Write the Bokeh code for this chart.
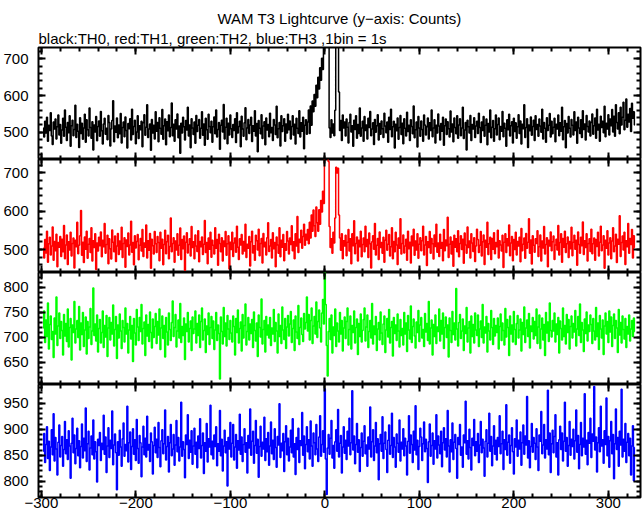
import numpy as np
from bokeh.plotting import figure
from bokeh.layouts import column
from bokeh.models import Range1d, LinearAxis, SingleIntervalTicker, Title
from bokeh.embed import file_html
from bokeh.resources import INLINE

# ---- data: counts per 1 s bin, first bin at t = -298 s ----
t_start = -298
bin_step = 1

th0 = [
    512, 487, 530, 498, 541, 476, 519, 505, 553, 490, 467, 528, 509, 536, 482, 515, 547, 493, 521, 470,
    506, 538, 489, 561, 514, 478, 527, 499, 545, 462, 518, 533, 491, 508, 574, 486, 522, 503, 459, 540,
    497, 525, 481, 512, 549, 473, 534, 507, 490, 566, 513, 484, 529, 452, 520, 501, 543, 477, 516, 531,
    489, 557, 504, 468, 523, 538, 495, 511, 480, 546, 527, 463, 509, 532, 586, 474, 517, 500, 539, 485,
    520, 496, 551, 471, 513, 528, 488, 542, 505, 457, 524, 510, 537, 479, 563, 494, 516, 533, 469, 501,
    545, 483, 518, 507, 530, 461, 526, 548, 492, 514, 575, 486, 509, 523, 451, 535, 498, 519, 482, 556,
    503, 527, 474, 540, 511, 495, 562, 481, 518, 536, 466, 529, 504, 547, 488, 513, 580, 491, 522, 476,
    534, 509, 550, 485, 517, 443, 525, 498, 541, 515, 479, 532, 506, 568, 490, 520, 458, 537, 512, 494,
    528, 470, 546, 502, 519, 535, 484, 511, 556, 492, 523, 465, 538, 507, 481, 549, 516, 499, 530, 473,
    515, 542, 496, 561, 487, 508, 527, 454, 519, 533, 501, 576, 482, 514, 538, 469, 525, 493, 547, 510,
    486, 521, 505, 537, 472, 553, 498, 516, 530, 461, 544, 509, 489, 526, 567, 480, 512, 535, 497, 520,
    541, 475, 518, 503, 559, 490, 524, 447, 532, 511, 496, 548, 483, 517, 529, 466, 539, 506, 521, 488,
    552, 499, 513, 478, 535, 520, 494, 571, 485, 510, 527, 463, 545, 502, 518, 537, 476, 523, 498, 549,
    507, 531, 482, 516, 545, 493, 522, 468, 538, 511, 497, 559, 487, 526, 503, 541, 455, 519, 534, 495,
    528, 561, 497, 572, 519, 585, 556, 603, 571, 628, 594, 650, 618, 676, 642, 702, 671, 735, 748, 770,
    752, 790, 735, 512, 486, 534, 498, 523, 491, 560, 765, 740, 772, 610, 505, 532, 478, 547, 512, 528,
    490, 536, 514, 471, 527, 549, 501, 518, 462, 533, 508, 545, 484, 521, 497, 566, 489, 512, 530, 476,
    543, 505, 520, 482, 538, 513, 557, 491, 509, 526, 467, 535, 500, 518, 548, 479, 524, 495, 531, 510,
    486, 552, 517, 499, 528, 473, 541, 508, 563, 488, 515, 530, 457, 522, 504, 539, 481, 513, 546, 494,
    525, 469, 537, 511, 490, 555, 502, 519, 478, 534, 516, 496, 572, 485, 507, 528, 460, 543, 512, 489,
    531, 508, 476, 547, 520, 493, 515, 539, 482, 526, 505, 561, 488, 512, 534, 471, 519, 498, 550, 517,
    479, 524, 503, 541, 465, 518, 536, 494, 529, 510, 487, 558, 501, 523, 474, 539, 513, 496, 545, 484,
    520, 537, 491, 512, 568, 483, 506, 527, 452, 533, 515, 498, 546, 478, 521, 509, 540, 486, 517, 530,
    497, 552, 513, 472, 528, 505, 543, 489, 519, 536, 466, 524, 501, 561, 485, 514, 532, 476, 510, 547,
    493, 521, 539, 480, 516, 503, 557, 488, 525, 511, 462, 534, 507, 549, 490, 518, 529, 471, 538, 502,
    526, 484, 515, 548, 497, 531, 468, 522, 510, 575, 486, 513, 537, 459, 520, 504, 542, 492, 516, 533,
    478, 545, 508, 521, 489, 536, 517, 500, 563, 482, 527, 511, 473, 540, 505, 519, 551, 487, 530, 496,
    514, 538, 474, 522, 509, 547, 491, 526, 503, 568, 480, 515, 532, 458, 524, 498, 543, 511, 487, 535,
    519, 493, 556, 505, 528, 470, 541, 512, 497, 534, 486, 559, 508, 523, 479, 546, 516, 501, 531, 490,
    527, 550, 495, 518, 539, 484, 563, 506, 522, 476, 544, 513, 530, 499, 571, 488, 525, 509, 548, 493,
    536, 518, 562, 501, 544, 489, 575, 527, 509, 553, 496, 568, 520, 541, 582, 507, 533, 591, 514, 549,
    528, 565, 502, 579, 538, 556, 520,
]

th1 = [
    503, 478, 526, 491, 548, 467, 515, 532, 486, 509, 559, 472, 521, 497, 540, 455, 518, 506, 534, 482,
    527, 494, 563, 476, 512, 538, 461, 520, 499, 545, 483, 516, 530, 452, 524, 507, 571, 489, 511, 536,
    602, 485, 519, 466, 533, 501, 548, 477, 514, 529, 492, 557, 470, 523, 505, 541, 448, 517, 496, 532,
    510, 546, 481, 524, 507, 568, 490, 513, 537, 463, 528, 502, 475, 551, 519, 494, 535, 469, 509, 542,
    487, 522, 500, 558, 479, 516, 531, 454, 525, 508, 543, 486, 512, 574, 493, 518, 460, 536, 504, 521,
    539, 473, 511, 529, 496, 552, 482, 517, 506, 564, 478, 523, 498, 542, 451, 527, 510, 488, 547, 515,
    492, 534, 518, 471, 545, 503, 527, 460, 513, 550, 489, 520, 537, 476, 508, 582, 494, 516, 531, 467,
    522, 499, 541, 485, 511, 556, 474, 526, 502, 535, 446, 519, 544, 491, 513, 528, 483, 560, 505, 520,
    476, 538, 509, 495, 549, 468, 521, 507, 533, 487, 514, 576, 492, 518, 463, 530, 501, 545, 480, 524,
    511, 488, 557, 503, 526, 459, 540, 516, 494, 531, 470, 522, 508, 547, 485, 515, 536, 449, 519, 500,
    545, 482, 517, 530, 493, 561, 506, 474, 528, 512, 539, 488, 521, 496, 566, 479, 514, 503, 534, 457,
    520, 548, 491, 510, 472, 537, 523, 499, 553, 484, 516, 529, 465, 542, 507, 519, 486, 531, 570, 495,
    509, 526, 478, 544, 502, 518, 455, 533, 512, 490, 557, 481, 524, 506, 539, 471, 515, 498, 547, 522,
    488, 530, 513, 562, 497, 520, 476, 541, 509, 586, 492, 527, 518, 550, 503, 534, 566, 511, 540, 525,
    552, 515, 571, 530, 590, 548, 603, 562, 534, 611, 570, 548, 604, 566, 628, 598, 652, 620, 740, 765,
    758, 772, 730, 560, 505, 528, 490, 545, 517, 582, 715, 700, 712, 590, 530, 498, 541, 476, 523, 509,
    537, 484, 519, 552, 496, 528, 463, 541, 510, 575, 489, 516, 533, 470, 524, 507, 548, 481, 513, 530,
    494, 561, 508, 526, 479, 543, 515, 452, 520, 536, 501, 568, 486, 511, 529, 474, 546, 505, 518, 490,
    532, 467, 524, 550, 498, 514, 539, 483, 507, 557, 476, 521, 494, 545, 512, 461, 530, 503, 580, 488,
    516, 538, 491, 509, 527, 472, 548, 502, 519, 465, 535, 510, 553, 485, 522, 499, 541, 477, 514, 531,
    497, 523, 561, 486, 512, 534, 458, 520, 505, 547, 490, 529, 515, 475, 538, 508, 566, 493, 517, 482,
    540, 503, 518, 471, 552, 497, 525, 510, 584, 479, 514, 533, 488, 521, 456, 537, 506, 528, 494, 549,
    481, 516, 536, 500, 527, 464, 543, 512, 490, 559, 505, 522, 478, 541, 517, 495, 531, 469, 509, 553,
    526, 492, 511, 547, 483, 520, 538, 461, 524, 506, 571, 487, 515, 532, 474, 529, 501, 544, 489, 518,
    507, 550, 478, 523, 512, 496, 537, 453, 519, 541, 492, 528, 510, 564, 484, 517, 534, 471, 526, 500,
    545, 486, 521, 509, 532, 468, 555, 497, 514, 530, 477, 542, 503, 519, 580, 490, 525, 462, 536, 511,
    493, 528, 516, 549, 482, 507, 538, 470, 522, 504, 560, 488, 513, 531, 455, 524, 509, 546, 497, 520,
    535, 474, 512, 527, 499, 563, 486, 518, 541, 467, 529, 506, 548, 492, 515, 533, 479, 521, 502, 558,
    484, 519, 537, 501, 524, 459, 546, 513, 490, 532, 510, 572, 487, 523, 505, 541, 470, 516, 528, 495,
    553, 489, 515, 530, 472, 526, 508, 545, 483, 519, 561, 497, 512, 536, 451, 524, 503, 549, 486, 517,
    531, 476, 522, 557, 494, 509, 540, 466, 527, 514, 588, 482, 518, 535, 499, 545, 461, 523, 507, 568,
    490, 529, 513, 552, 478, 536, 505,
]

th2 = [
    718, 752, 689, 734, 701, 768, 676, 725, 742, 695, 711, 659, 738, 706, 780, 683, 722, 748, 697, 731,
    713, 664, 745, 702, 727, 691, 756, 680, 719, 737, 654, 724, 709, 771, 688, 716, 733, 699, 761, 674,
    728, 705, 749, 681, 714, 740, 666, 731, 697, 720, 757, 685, 712, 798, 703, 726, 692, 744, 670, 717,
    735, 688, 709, 752, 679, 723, 700, 743, 661, 718, 739, 694, 729, 706, 764, 682, 715, 741, 657, 724,
    698, 746, 712, 677, 733, 719, 690, 758, 706, 727, 668, 714, 741, 696, 723, 651, 737, 708, 684, 755,
    720, 693, 739, 711, 765, 686, 717, 730, 663, 744, 702, 725, 691, 750, 709, 678, 736, 699, 721, 747,
    687, 731, 704, 756, 675, 718, 742, 697, 723, 660, 739, 710, 684, 748, 715, 693, 729, 772, 701, 719,
    745, 680, 712, 734, 698, 767, 689, 721, 703, 738, 655, 726, 711, 749, 690, 717, 732, 673, 740, 707,
    716, 752, 688, 727, 703, 744, 679, 731, 758, 694, 713, 736, 669, 722, 705, 748, 685, 719, 741, 697,
    732, 675, 714, 749, 693, 724, 707, 616, 740, 711, 686, 759, 701, 728, 682, 743, 716, 695, 733, 708,
    690, 742, 721, 664, 737, 709, 754, 688, 717, 730, 672, 745, 698, 723, 766, 684, 711, 739, 694, 726,
    707, 735, 679, 750, 713, 692, 728, 661, 744, 719, 700, 776, 686, 715, 733, 670, 741, 704, 724, 698,
    739, 683, 718, 706, 755, 691, 729, 712, 668, 746, 701, 723, 687, 760, 714, 695, 737, 677, 720, 743,
    702, 726, 751, 689, 717, 734, 673, 742, 710, 697, 763, 685, 719, 738, 705, 691, 747, 716, 729, 780,
    712, 745, 694, 733, 758, 687, 722, 741, 706, 770, 699, 731, 754, 718, 690, 748, 775, 726, 832, 765,
    683, 622, 711, 737, 695, 744, 668, 720, 703, 756, 681, 728, 712, 690, 749, 706, 733, 672, 718, 740,
    697, 731, 758, 684, 715, 742, 676, 723, 709, 752, 688, 719, 736, 665, 727, 701, 746, 690, 713, 735,
    758, 692, 720, 744, 679, 711, 733, 698, 767, 686, 722, 705, 741, 673, 716, 729, 694, 750, 708, 685,
    726, 742, 669, 714, 737, 700, 755, 688, 719, 731, 662, 739, 707, 724, 693, 746, 712, 680, 735, 703,
    717, 684, 749, 706, 728, 671, 743, 714, 696, 762, 689, 721, 736, 702, 678, 730, 709, 753, 691, 724,
    739, 698, 715, 681, 747, 710, 727, 693, 771, 686, 718, 734, 664, 725, 701, 744, 687, 720, 711, 756,
    692, 733, 706, 748, 677, 719, 740, 699, 724, 660, 738, 713, 689, 751, 705, 728, 694, 797, 716, 682,
    729, 745, 697, 712, 736, 673, 722, 707, 759, 690, 718, 731, 668, 742, 701, 725, 688, 748, 714, 703,
    744, 681, 716, 732, 699, 765, 688, 720, 708, 741, 670, 727, 712, 694, 753, 719, 685, 737, 702, 723,
    709, 738, 676, 721, 746, 693, 728, 713, 684, 757, 700, 735, 719, 663, 742, 706, 724, 690, 751, 715,
    685, 727, 743, 698, 714, 736, 672, 729, 705, 760, 689, 718, 734, 701, 747, 678, 722, 711, 739, 696,
    731, 703, 756, 687, 720, 744, 677, 716, 738, 694, 725, 663, 749, 708, 730, 691, 768, 713, 700, 733,
    712, 748, 690, 726, 705, 739, 668, 732, 717, 694, 758, 701, 723, 686, 745, 709, 735, 676, 721, 742,
    698, 727, 710, 753, 682, 716, 741, 703, 766, 689, 729, 714, 671, 736, 707, 750, 692, 724, 711, 744,
    725, 687, 737, 712, 694, 759, 701, 728, 675, 743, 716, 698, 734, 665, 722, 748, 706, 731, 689, 752,
    710, 740, 681, 723, 746, 697, 733, 718, 669, 755, 704, 729, 688, 742, 715, 696, 737, 679, 721, 706,
    744, 692, 716, 733, 701, 738, 711,
]

th3 = [
    858, 892, 836, 871, 905, 844, 877, 821, 866, 899, 851, 930, 839, 884, 862, 812, 875, 908, 847, 869,
    886, 829, 861, 915, 853, 880, 842, 897, 868, 806, 873, 921, 855, 889, 834, 863, 902, 849, 878, 826,
    867, 910, 845, 883, 859, 941, 838, 872, 896, 822, 864, 887, 851, 918, 843, 876, 857, 799, 881, 869,
    894, 840, 873, 861, 927, 852, 885, 817, 868, 903, 846, 879, 863, 935, 832, 870, 891, 855, 784, 876,
    850, 898, 866, 829, 882, 912, 848, 871, 859, 944, 837, 874, 895, 823, 867, 901, 852, 880, 840, 919,
    863, 835, 888, 874, 809, 866, 906, 851, 883, 847, 925, 860, 871, 838, 893, 876, 814, 869, 904, 855,
    881, 846, 913, 865, 828, 878, 899, 853, 872, 937, 841, 867, 886, 818, 874, 909, 849, 862, 890, 831,
    870, 917, 857, 884, 839, 866, 952, 848, 876, 861, 807, 889, 871, 928, 844, 879, 856, 897, 833, 868,
    902, 852, 875, 826, 887, 863, 920, 845, 869, 893, 815, 874, 858, 911, 837, 882, 866, 946, 851, 877,
    843, 889, 867, 905, 830, 872, 858, 936, 849, 881, 820, 868, 898, 855, 876, 791, 884, 862, 913, 847,
    873, 909, 841, 866, 890, 825, 878, 860, 929, 852, 885, 838, 871, 901, 856, 874, 816, 888, 864, 939,
    850, 877, 896, 835, 869, 917, 854, 881, 808, 867, 906, 848, 875, 862, 923, 840, 882, 857, 894, 831,
    868, 914, 853, 879, 842, 901, 865, 827, 886, 870, 949, 846, 873, 859, 892, 819, 876, 907, 851, 883,
    839, 866, 898, 855, 920, 847, 872, 813, 884, 861, 902, 836, 878, 869, 932, 850, 887, 824, 871, 905,
    857, 880, 843, 916, 868, 829, 893, 874, 851, 909, 862, 838, 885, 926, 848, 871, 897, 856, 978, 843,
    775, 864, 890, 852, 883, 917, 845, 869, 825, 876, 899, 858, 938, 847, 873, 888, 816, 866, 905, 854,
    879, 842, 896, 868, 921, 851, 874, 974, 860, 887, 834, 871, 911, 856, 880, 819, 865, 893, 848, 877,
    907, 853, 870, 829, 885, 862, 943, 847, 876, 899, 840, 868, 913, 855, 882, 803, 872, 890, 858, 924,
    844, 873, 895, 861, 817, 879, 908, 852, 869, 931, 846, 884, 866, 827, 891, 873, 856, 918, 839, 875,
    862, 901, 849, 883, 868, 812, 877, 926, 854, 889, 871, 836, 896, 860, 945, 851, 879, 823, 867, 902,
    885, 840, 872, 914, 857, 881, 863, 798, 876, 910, 848, 869, 893, 833, 878, 862, 928, 845, 887, 870,
    853, 896, 828, 874, 903, 860, 882, 847, 936, 868, 818, 880, 857, 912, 842, 875, 890, 863, 806, 884,
    871, 909, 850, 866, 827, 889, 874, 954, 852, 878, 843, 900, 865, 822, 883, 869, 919, 849, 876, 858,
    892, 836, 870, 915, 855, 881, 864, 810, 877, 899, 847, 873, 931, 858, 886, 830, 868, 907, 852, 879,
    841, 884, 867, 926, 853, 872, 896, 823, 880, 861, 947, 850, 875, 889, 835, 869, 903, 857, 814, 882,
    866, 918, 848, 879, 862, 895, 831, 874, 908, 852, 887, 870, 963, 845, 878, 826, 867, 911, 856, 884,
    873, 842, 901, 866, 821, 889, 877, 934, 853, 870, 909, 845, 880, 862, 975, 851, 893, 817, 872, 898,
    855, 886, 928, 847, 874, 812, 880, 906, 861, 893, 839, 877, 952, 858, 884, 829, 869, 915, 850, 881,
    867, 900, 843, 878, 937, 856, 888, 824, 871, 913, 849, 883, 866, 968, 852, 879, 832, 894, 873, 921,
    846, 891, 877, 982, 860, 885, 818, 874, 903, 857, 944, 868, 880, 835, 897, 871, 960, 849, 886, 827,
    878, 915, 853, 890, 805, 872, 939, 861, 884, 829, 896, 870, 977, 847, 881, 858, 911, 836, 875, 892,
    849, 883, 812, 868, 907, 801, 865,
]

series = [th0, th1, th2, th3]
colors = ["black", "red", "#00ff00", "blue"]
y_limits = [(426, 731), (440, 735), (605, 829), (769, 986)]
y_major = [100, 100, 50, 50]
x_limits = (-303, 334)
x_major = 100
x_tick_overrides = {-300: "\u2212300", -200: "\u2212200", -100: "\u2212100"}

title_text = "WAM T3 Lightcurve (y\u2212axis: Counts)"
subtitle_text = "black:TH0, red:TH1, green:TH2, blue:TH3 ,1bin = 1s"

FONT = "Liberation Sans"
x_range = Range1d(*x_limits)

# pixel layout (Bokeh page has no body margin)
TOP, BOTTOM, LEFT, RIGHT = 47, 18, 37, 3
frame_heights = [112, 113, 112, 113]


def make_axis(interval, labels, fixed=None, standoff=0):
    ax = LinearAxis(ticker=SingleIntervalTicker(interval=interval, num_minor_ticks=5))
    ax.axis_line_color = None
    ax.major_tick_in = 7
    ax.major_tick_out = 0
    ax.minor_tick_in = 4
    ax.minor_tick_out = 0
    ax.major_tick_line_width = 2
    ax.minor_tick_line_width = 2
    ax.major_tick_line_color = "black"
    ax.minor_tick_line_color = "black"
    if labels:
        ax.major_label_text_font = FONT
        ax.major_label_text_font_size = "15px"
        ax.major_label_text_color = "black"
        ax.major_label_standoff = standoff
    else:
        ax.major_label_text_font_size = "0px"
        ax.major_label_standoff = 0
        ax.major_label_text_alpha = 0
        ax.fixed_location = fixed
    return ax


panels = []
n = len(series)
for i, (ys, col, (lo, hi), maj, fh) in enumerate(zip(series, colors, y_limits, y_major, frame_heights)):
    first = i == 0
    last = i == n - 1
    top = TOP if first else 0
    bot = BOTTOM if last else 0
    p = figure(
        x_range=x_range, y_range=Range1d(lo, hi),
        width=643, height=top + fh + bot,
        min_border_left=LEFT, min_border_right=RIGHT,
        min_border_top=top, min_border_bottom=bot,
        toolbar_location=None, output_backend="svg",
        x_axis_location=None, y_axis_location=None,
    )
    p.grid.visible = False
    p.outline_line_color = "black"
    p.outline_line_width = 2
    p.background_fill_color = "white"
    p.border_fill_color = "white"

    p.add_layout(make_axis(maj, True, standoff=10), "left")
    p.add_layout(make_axis(maj, False, fixed=x_limits[1]), "right")
    p.add_layout(make_axis(x_major, False, fixed=hi), "above")
    if last:
        bottom = make_axis(x_major, True, standoff=0)
        bottom.major_label_overrides = x_tick_overrides
    else:
        bottom = make_axis(x_major, False, fixed=lo)
    p.add_layout(bottom, "below")

    t = np.arange(len(ys)) * bin_step + t_start
    p.step(t, ys, mode="center", line_color=col, line_width=1.5)

    if first:
        p.add_layout(Title(text=subtitle_text, align="left", text_font=FONT,
                           text_font_size="15px", text_font_style="normal",
                           text_color="black", standoff=1), "above")
        p.add_layout(Title(text=title_text, align="center", text_font=FONT,
                           text_font_size="15px", text_font_style="normal",
                           text_color="black", standoff=1), "above")
    panels.append(p)

layout = column(*panels, spacing=0)
open("out.html", "w").write(file_html(layout, INLINE))
